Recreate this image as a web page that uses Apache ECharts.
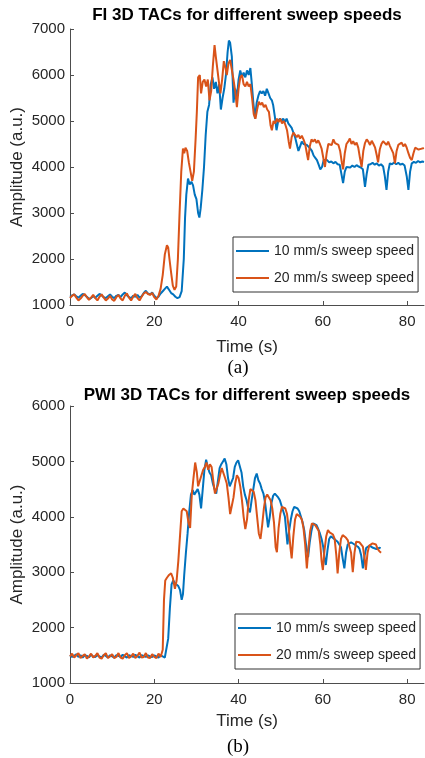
<!DOCTYPE html>
<html>
<head>
<meta charset="utf-8">
<script src="https://cdn.jsdelivr.net/npm/echarts@6/dist/echarts.min.js"></script>
<style>html,body{margin:0;padding:0;background:#fff;}#c{width:425px;height:758px;}</style>
</head>
<body>
<div id="c"></div>
<script>
// ---------- DATA ----------
const seriesNames = ['10 mm/s sweep speed', '20 mm/s sweep speed'];
const titles = ['FI 3D TACs for different sweep speeds', 'PWI 3D TACs for different sweep speeds'];
const captions = ['(a)', '(b)'];
const xTicks = [0, 20, 40, 60, 80];
const fiYTicks = [1000, 2000, 3000, 4000, 5000, 6000, 7000];
const pwiYTicks = [1000, 2000, 3000, 4000, 5000, 6000];

// FI, 10 mm/s  [time s, amplitude]
const fi10 = [[0,1180],[0.5,1210],[1,1230],[1.5,1190],[2,1160],[2.5,1200],[3,1240],[3.5,1220],[4,1180],[4.5,1130],[5,1150],[5.5,1190],[6,1160],[6.5,1200],[7,1240],[7.5,1210],[8,1170],[8.5,1150],[9,1190],[9.5,1230],[10,1180],[10.5,1150],[11,1200],[11.5,1220],[12,1170],[12.5,1230],[13,1270],[13.5,1210],[14,1170],[14.5,1150],[15,1200],[15.5,1180],[16,1220],[16.5,1160],[17,1190],[17.5,1260],[18,1310],[18.5,1250],[19,1230],[19.5,1270],[20,1200],[20.5,1150],[21,1180],[21.5,1250],[22,1300],[22.5,1350],[23,1400],[23.5,1330],[24,1260],[24.5,1230],[25,1180],[25.5,1150],[26,1170],[26.5,1300],[27,2000],[27.3,2900],[27.6,3400],[28,3750],[28.4,3620],[28.8,3680],[29.2,3600],[29.6,3400],[30,3300],[30.4,3000],[30.7,2900],[31,3100],[31.4,3500],[31.8,4000],[32.2,4700],[32.6,5200],[33,5350],[33.4,5800],[33.8,5950],[34.2,5700],[34.6,5850],[35,5600],[35.4,5800],[35.8,5250],[36.2,5500],[36.6,5700],[37,6000],[37.4,6500],[37.7,6750],[38,6700],[38.4,6400],[38.8,5400],[39.2,5700],[39.6,5500],[40,5900],[40.4,6100],[40.8,5950],[41.2,6050],[41.6,5950],[42,6100],[42.4,6000],[42.8,6150],[43.1,5850],[43.5,5400],[43.9,5050],[44.3,5400],[44.7,5550],[45.1,5650],[45.5,5600],[45.9,5650],[46.3,5550],[46.7,5700],[47.1,5600],[47.5,5500],[47.9,5450],[48.2,5350],[48.6,5100],[49,4800],[49.4,5000],[49.8,5050],[50.2,5000],[50.6,5050],[51,4980],[51.4,5050],[51.8,4950],[52.2,4900],[52.6,4850],[53,4750],[53.4,4650],[53.8,4500],[54.2,4350],[54.6,4450],[55,4550],[55.4,4500],[55.8,4520],[56.2,4480],[56.6,4520],[57,4400],[57.4,4350],[57.8,4250],[58.2,4200],[58.6,4150],[59,4050],[59.4,3950],[59.8,4000],[60.2,4150],[60.6,4130],[61,4150],[61.5,4100],[62,4120],[62.5,4080],[63,4110],[63.5,4060],[64,4050],[64.4,3850],[64.8,3650],[65.2,3900],[65.6,4000],[66,4020],[66.5,3990],[67,4030],[67.5,4000],[68,4040],[68.5,4010],[69,3990],[69.5,3950],[70,3570],[70.4,3850],[70.8,4050],[71.3,4060],[71.8,4090],[72.3,4050],[72.8,4080],[73.3,4030],[73.8,4060],[74.3,4010],[74.7,3800],[75.1,3500],[75.5,3900],[75.9,4080],[76.4,4060],[76.9,4100],[77.4,4060],[77.9,4090],[78.4,4050],[78.9,4070],[79.4,4030],[79.9,3800],[80.3,3500],[80.7,3900],[81.1,4080],[81.6,4110],[82.1,4090],[82.6,4130],[83.1,4100],[83.6,4120],[84,4110]];

// FI, 20 mm/s
const fi20 = [[0,1150],[0.5,1200],[1,1230],[1.5,1160],[2,1100],[2.5,1140],[3,1200],[3.5,1240],[4,1170],[4.5,1110],[5,1160],[5.5,1220],[6,1150],[6.5,1100],[7,1180],[7.5,1230],[8,1160],[8.5,1100],[9,1140],[9.5,1200],[10,1120],[10.5,1090],[11,1170],[11.5,1220],[12,1140],[12.5,1100],[13,1200],[13.5,1250],[14,1160],[14.5,1100],[15,1180],[15.5,1240],[16,1150],[16.5,1100],[17,1180],[17.5,1250],[18,1280],[18.5,1240],[19,1220],[19.5,1260],[20,1170],[20.5,1120],[21,1200],[21.5,1350],[22,1650],[22.5,2100],[23,2300],[23.3,2250],[23.6,2000],[24,1700],[24.4,1420],[24.8,1330],[25.2,1400],[25.6,2000],[26,3000],[26.4,3900],[26.8,4400],[27.1,4300],[27.4,4420],[27.8,4350],[28.2,4100],[28.6,3900],[29,3700],[29.4,3900],[29.8,4600],[30.1,5200],[30.4,5950],[30.8,6000],[31.1,5600],[31.5,5850],[31.9,5900],[32.3,5750],[32.7,5900],[33.1,5450],[33.5,5650],[33.9,6200],[34.3,6650],[34.6,6400],[35,6100],[35.4,5800],[35.7,5600],[36.1,5900],[36.5,6300],[36.9,6150],[37.2,6000],[37.6,6250],[38,6330],[38.4,6300],[38.8,5900],[39.2,5650],[39.6,5300],[40,5700],[40.4,5950],[40.8,6000],[41.2,5800],[41.6,5750],[42,5850],[42.4,5750],[42.8,5800],[43.2,5500],[43.6,5150],[44,5050],[44.4,5250],[44.8,5420],[45.2,5350],[45.6,5400],[46,5300],[46.4,5350],[46.8,5250],[47.2,5200],[47.6,4900],[47.9,4800],[48.3,5000],[48.7,4950],[49.1,5050],[49.5,4980],[49.9,5050],[50.3,4950],[50.7,5000],[51.1,4920],[51.5,4800],[51.9,4550],[52.2,4400],[52.6,4650],[53,4750],[53.4,4720],[53.8,4650],[54.2,4700],[54.6,4620],[55,4680],[55.4,4600],[55.8,4500],[56.2,4300],[56.5,4150],[56.9,4450],[57.3,4600],[57.7,4550],[58.1,4600],[58.5,4520],[58.9,4580],[59.3,4500],[59.7,4400],[60.1,4200],[60.5,4000],[60.9,4300],[61.3,4500],[61.7,4530],[62.1,4480],[62.5,4600],[62.9,4520],[63.3,4560],[63.7,4480],[64.1,4350],[64.5,4100],[64.8,3950],[65.2,4300],[65.6,4500],[66,4550],[66.4,4620],[66.8,4500],[67.2,4560],[67.6,4480],[68,4530],[68.4,4420],[68.8,4200],[69.2,4000],[69.6,4350],[70,4520],[70.4,4600],[70.8,4550],[71.2,4480],[71.6,4570],[72,4500],[72.4,4420],[72.8,4250],[73.1,4100],[73.5,4380],[73.9,4500],[74.3,4560],[74.7,4600],[75.1,4480],[75.5,4550],[75.9,4460],[76.3,4500],[76.7,4300],[77.1,4080],[77.5,4350],[77.9,4480],[78.3,4450],[78.7,4530],[79.1,4450],[79.5,4500],[79.9,4420],[80.3,4300],[80.7,4200],[81.1,4150],[81.5,4300],[81.9,4420],[82.3,4450],[82.7,4380],[83.1,4420],[83.5,4400],[84,4410]];

// PWI, 10 mm/s
const pwi10 = [[0,1500],[0.5,1470],[1,1490],[1.5,1520],[2,1470],[2.5,1500],[3,1460],[3.5,1500],[4,1490],[4.5,1460],[5,1510],[5.5,1480],[6,1470],[6.5,1500],[7,1480],[7.5,1460],[8,1510],[8.5,1490],[9,1460],[9.5,1500],[10,1480],[10.5,1460],[11,1500],[11.5,1490],[12,1470],[12.5,1510],[13,1480],[13.5,1460],[14,1500],[14.5,1490],[15,1470],[15.5,1510],[16,1480],[16.5,1460],[17,1500],[17.5,1490],[18,1470],[18.5,1500],[19,1480],[19.5,1470],[20,1500],[20.5,1480],[21,1460],[21.5,1500],[22,1480],[22.5,1460],[22.9,1480],[23.3,1800],[23.7,2350],[24.1,2780],[24.5,2850],[24.9,2800],[25.3,2830],[25.7,2750],[26.1,2680],[26.5,2500],[26.8,2600],[27.1,2950],[27.5,3350],[27.9,3700],[28.3,4100],[28.7,4400],[29.1,4480],[29.5,4400],[29.9,4450],[30.3,4500],[30.7,4400],[31.1,4150],[31.5,4500],[31.9,4850],[32.3,5030],[32.7,4900],[33.1,4800],[33.5,4750],[33.9,4600],[34.3,4500],[34.7,4420],[35.1,4650],[35.5,4880],[35.9,4950],[36.3,5000],[36.7,5050],[37.1,4950],[37.5,4700],[37.9,4550],[38.3,4530],[38.7,4700],[39.1,4900],[39.5,4980],[39.9,5020],[40.3,5000],[40.7,4800],[41.1,4550],[41.5,4400],[41.9,4300],[42.3,4150],[42.7,4080],[43.1,4300],[43.5,4500],[43.9,4700],[44.3,4780],[44.7,4660],[45.1,4600],[45.5,4500],[45.9,4420],[46.3,4250],[46.7,4000],[47,3810],[47.4,4000],[47.8,4250],[48.2,4380],[48.6,4420],[49,4440],[49.4,4350],[49.8,4300],[50.2,4200],[50.6,4100],[51,4000],[51.3,3750],[51.6,3500],[52,3750],[52.4,3950],[52.8,4100],[53.2,4180],[53.6,4210],[54,4150],[54.4,4100],[54.8,4000],[55.2,3900],[55.6,3750],[56,3500],[56.5,3270],[56.9,3550],[57.3,3750],[57.7,3880],[58.1,3900],[58.5,3850],[58.9,3780],[59.3,3700],[59.7,3600],[60.1,3450],[60.4,3250],[60.7,3130],[61.1,3400],[61.5,3600],[61.9,3650],[62.3,3620],[62.7,3600],[63.1,3580],[63.5,3550],[63.9,3500],[64.3,3450],[64.7,3250],[65.1,3070],[65.5,3350],[65.9,3500],[66.3,3520],[66.7,3540],[67.1,3540],[67.5,3500],[67.9,3480],[68.3,3460],[68.7,3420],[69.1,3300],[69.5,3070],[69.9,3300],[70.3,3440],[70.7,3460],[71.1,3480],[71.5,3470],[71.9,3440],[72.3,3450],[72.7,3420],[73.1,3400],[73.5,3440],[73.7,3430]];

// PWI, 20 mm/s
const pwi20 = [[0,1480],[0.5,1530],[1,1460],[1.5,1500],[2,1540],[2.5,1450],[3,1490],[3.5,1520],[4,1440],[4.5,1480],[5,1530],[5.5,1460],[6,1490],[6.5,1540],[7,1460],[7.5,1440],[8,1500],[8.5,1540],[9,1450],[9.5,1480],[10,1520],[10.5,1450],[11,1470],[11.5,1540],[12,1460],[12.5,1440],[13,1500],[13.5,1540],[14,1450],[14.5,1480],[15,1530],[15.5,1450],[16,1490],[16.5,1550],[17,1460],[17.5,1470],[18,1540],[18.5,1460],[19,1450],[19.5,1520],[20,1470],[20.5,1450],[21,1530],[21.5,1470],[22,1600],[22.3,2500],[22.6,2850],[23,2900],[23.5,2950],[24,2980],[24.4,2900],[24.9,2700],[25.3,2850],[25.7,3200],[26.1,3650],[26.5,4100],[26.9,4150],[27.3,4170],[27.7,4100],[28.1,3900],[28.5,3800],[28.9,4400],[29.3,4700],[29.7,4980],[30.1,4800],[30.4,4550],[30.8,4650],[31.2,4750],[31.6,4850],[32,4900],[32.4,4980],[32.8,4850],[33.2,4950],[33.6,4900],[34,4650],[34.4,4420],[34.8,4450],[35.2,4600],[35.6,4750],[36,4880],[36.4,4850],[36.8,4700],[37.2,4600],[37.6,4350],[38,4050],[38.4,4200],[38.8,4350],[39.2,4600],[39.6,4750],[40,4700],[40.4,4550],[40.8,4300],[41.2,4000],[41.6,3780],[42,3950],[42.4,4300],[42.8,4500],[43.2,4530],[43.6,4450],[44,4300],[44.4,4000],[44.8,3700],[45.2,3600],[45.6,3850],[46,4150],[46.4,4350],[46.8,4400],[47.2,4380],[47.6,4300],[48,4150],[48.4,3900],[48.8,3450],[49.1,3360],[49.5,3800],[49.9,4050],[50.3,4180],[50.7,4210],[51.1,4150],[51.5,4050],[51.9,3800],[52.3,3450],[52.6,3250],[53,3650],[53.4,3950],[53.8,4050],[54.2,4060],[54.6,4000],[55,3950],[55.4,3800],[55.8,3500],[56.2,3070],[56.6,3450],[57,3750],[57.4,3880],[57.8,3900],[58.2,3850],[58.6,3800],[59,3750],[59.4,3500],[59.7,3200],[60,3040],[60.4,3400],[60.8,3650],[61.2,3760],[61.6,3720],[62,3700],[62.4,3680],[62.8,3600],[63.2,3300],[63.5,2980],[63.9,3350],[64.3,3600],[64.7,3670],[65.1,3650],[65.5,3620],[65.9,3580],[66.3,3550],[66.7,3350],[67.1,3000],[67.5,3350],[67.9,3550],[68.3,3560],[68.7,3540],[69.1,3520],[69.5,3460],[69.9,3250],[70.2,3040],[70.6,3350],[71,3480],[71.4,3500],[71.8,3520],[72.2,3540],[72.6,3500],[73,3420],[73.4,3380],[73.8,3350]];

// ---------- CHART ----------
const FONT = '"Liberation Sans", Arial, Helvetica, sans-serif';
const TXT = '#262626';
const AXC = '#4d4d4d';
const BLUE = '#0072BD', ORANGE = '#D95319';
const plain = v => String(v);

function xAxisCfg(gi, gap) {
  return {
    type: 'value', gridIndex: gi, min: 0, max: 84,
    name: 'Time (s)', nameLocation: 'middle', nameGap: gap, nameMoveOverlap: false,
    nameTextStyle: {fontFamily: FONT, fontSize: 17, color: TXT},
    axisLine: {show: true, lineStyle: {color: AXC, width: 1}},
    axisTick: {show: true, inside: true, length: 4, customValues: xTicks, lineStyle: {color: AXC}},
    axisLabel: {customValues: xTicks, formatter: plain, margin: 9, fontFamily: FONT, fontSize: 15, color: TXT},
    splitLine: {show: false}
  };
}
function yAxisCfg(gi, ticks) {
  return {
    type: 'value', gridIndex: gi, min: ticks[0], max: ticks[ticks.length - 1],
    name: 'Amplitude (a.u.)', nameLocation: 'middle', nameGap: 44, nameMoveOverlap: false,
    nameTextStyle: {fontFamily: FONT, fontSize: 17, color: TXT},
    axisLine: {show: true, lineStyle: {color: AXC, width: 1}},
    axisTick: {show: true, inside: true, length: 4, customValues: ticks, lineStyle: {color: AXC}},
    axisLabel: {customValues: ticks, formatter: plain, margin: 5, fontFamily: FONT, fontSize: 15, color: TXT},
    splitLine: {show: false}
  };
}
function lineSeries(name, data, color, gi) {
  return {
    type: 'line', name: name, data: data, xAxisIndex: gi, yAxisIndex: gi,
    showSymbol: false, symbol: 'none', lineStyle: {color: color, width: 2}, itemStyle: {color: color},
    animation: false, clip: true
  };
}
function legendCfg(left, top) {
  return {
    data: seriesNames, orient: 'vertical', left: left, top: top,
    icon: 'rect', itemWidth: 33, itemHeight: 2, itemGap: 13,
    padding: [7, 4, 7, 3], borderColor: '#333', borderWidth: 1, backgroundColor: '#fff',
    textStyle: {fontFamily: FONT, fontSize: 14, color: TXT},
    selectedMode: false
  };
}

const chart = echarts.init(document.getElementById('c'), null, {renderer: 'canvas'});
chart.setOption({
  animation: false,
  backgroundColor: '#fff',
  grid: [
    {left: 70, top: 29, width: 354, height: 276, containLabel: false, outerBoundsMode: 'none'},
    {left: 70, top: 406, width: 354, height: 277, containLabel: false, outerBoundsMode: 'none'}
  ],
  xAxis: [xAxisCfg(0, 34), xAxisCfg(1, 30)],
  yAxis: [yAxisCfg(0, fiYTicks), yAxisCfg(1, pwiYTicks)],
  legend: [legendCfg(233, 237), legendCfg(235, 614)],
  series: [
    lineSeries(seriesNames[0], fi10, BLUE, 0),
    lineSeries(seriesNames[1], fi20, ORANGE, 0),
    lineSeries(seriesNames[0], pwi10, BLUE, 1),
    lineSeries(seriesNames[1], pwi20, ORANGE, 1)
  ],
  graphic: [
    {type: 'text', x: 247, y: 15, style: {text: titles[0], font: 'bold 17px ' + FONT, fill: '#000', align: 'center', verticalAlign: 'middle'}},
    {type: 'text', x: 247, y: 395, style: {text: titles[1], font: 'bold 17px ' + FONT, fill: '#000', align: 'center', verticalAlign: 'middle'}},
    {type: 'text', x: 238, y: 368, style: {text: captions[0], font: '19px "Liberation Serif", "Times New Roman", serif', fill: '#000', align: 'center', verticalAlign: 'middle'}},
    {type: 'text', x: 238, y: 747, style: {text: captions[1], font: '19px "Liberation Serif", "Times New Roman", serif', fill: '#000', align: 'center', verticalAlign: 'middle'}}
  ]
});
</script>
</body>
</html>
